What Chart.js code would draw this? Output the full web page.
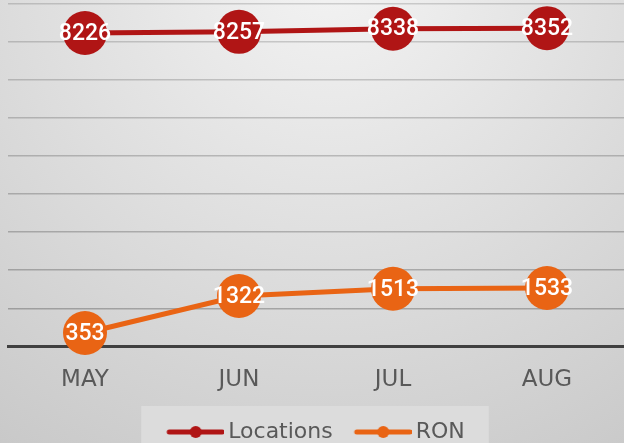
<!DOCTYPE html>
<html>
<head>
<meta charset="utf-8">
<script src="https://cdn.jsdelivr.net/npm/chart.js@4.4.0/dist/chart.umd.min.js"></script>
<style>
  html, body { margin: 0; padding: 0; overflow: hidden; background: #d0d0d0; }
  #chart { display: block; }
</style>
</head>
<body>
<canvas id="chart" width="624" height="470"></canvas>
<script>
// Data
const months = ['MAY', 'JUN', 'JUL', 'AUG'];
const locations = [8226, 8257, 8338, 8352];
const ron = [353, 1322, 1513, 1533];

const RED = '#b01515';
const ORANGE = '#e96414';
const TEXT = '#595959';
const FONT = "'DejaVu Sans'";

// Legend symbol: line with a dot in the middle
function legendSymbol(color) {
    const c = document.createElement('canvas');
    c.width = 64;
    c.height = 14;
    const g = c.getContext('2d');
    g.strokeStyle = color;
    g.fillStyle = color;
    g.lineWidth = 5;
    g.lineCap = 'round';
    g.beginPath();
    g.moveTo(9, 7);
    g.lineTo(62, 7);
    g.stroke();
    g.beginPath();
    g.arc(35.5, 7, 6, 0, Math.PI * 2);
    g.fill();
    return c;
}

// Background gradient + legend panel
const backdrop = {
    id: 'backdrop',
    beforeDraw(chart) {
        const ctx = chart.ctx;
        ctx.save();
        const grad = ctx.createRadialGradient(330, -40, 0, 330, -40, 650);
        grad.addColorStop(0, '#f4f4f4');
        grad.addColorStop(1, '#c4c4c4');
        ctx.fillStyle = grad;
        ctx.fillRect(0, 0, chart.width, chart.height);

        const boxes = chart.legend.legendHitBoxes;
        if (boxes && boxes.length) {
            const first = boxes[0];
            const last = boxes[boxes.length - 1];
            ctx.fillStyle = '#dcdcdc';
            ctx.fillRect(first.left - 26, 406, last.left + last.width - first.left + 50, chart.height - 406);
        }
        ctx.restore();
    }
};

// Value labels inside the markers
const valueLabels = {
    id: 'valueLabels',
    afterDatasetsDraw(chart) {
        const ctx = chart.ctx;
        ctx.save();
        ctx.fillStyle = '#ffffff';
        ctx.font = '500 23px Roboto';
        ctx.textAlign = 'center';
        ctx.textBaseline = 'middle';
        chart.data.datasets.forEach((ds, i) => {
            chart.getDatasetMeta(i).data.forEach((pt, j) => {
                ctx.fillText(String(ds.data[j]), pt.x, pt.y + 1);
            });
        });
        ctx.restore();
    }
};

new Chart(document.getElementById('chart'), {
    type: 'line',
    data: {
        labels: months,
        datasets: [{
            label: 'Locations',
            data: locations,
            borderColor: RED,
            backgroundColor: RED,
            pointBackgroundColor: RED,
            borderWidth: 5,
            pointRadius: 22,
            pointBorderWidth: 0,
            tension: 0,
            clip: false
        }, {
            label: 'RON',
            data: ron,
            borderColor: ORANGE,
            backgroundColor: ORANGE,
            pointBackgroundColor: ORANGE,
            borderWidth: 5,
            pointRadius: 22,
            pointBorderWidth: 0,
            tension: 0,
            clip: false
        }]
    },
    options: {
        responsive: false,
        animation: false,
        layout: {
            autoPadding: false,
            padding: { top: 3.5, left: 8, right: 0, bottom: 17 }
        },
        plugins: {
            tooltip: { enabled: false },
            legend: {
                position: 'bottom',
                labels: {
                    usePointStyle: true,
                    pointStyleWidth: 50,
                    padding: 22,
                    color: TEXT,
                    font: { family: FONT, size: 22 },
                    generateLabels(chart) {
                        const items = Chart.defaults.plugins.legend.labels.generateLabels(chart);
                        items.forEach((item, i) => {
                            item.pointStyle = legendSymbol(i === 0 ? RED : ORANGE);
                        });
                        return items;
                    }
                }
            }
        },
        scales: {
            x: {
                offset: true,
                grid: { display: false, drawTicks: false },
                border: { display: true, color: '#404040', width: 3 },
                ticks: {
                    color: TEXT,
                    padding: 20,
                    font: { family: FONT, size: 23 }
                },
                afterFit(scale) {
                    scale.height -= 15;
                }
            },
            y: {
                min: 0,
                max: 9000,
                ticks: { display: false, stepSize: 1000 },
                grid: {
                    // lines get a little darker towards the bottom
                    color: (c) => 'rgba(0,0,0,' + (0.26 - 0.012 * (c.tick ? c.tick.value / 1000 : 0)).toFixed(3) + ')',
                    lineWidth: 1.5,
                    drawTicks: false
                },
                border: { display: false }
            }
        }
    },
    plugins: [backdrop, valueLabels]
});
</script>
</body>
</html>
